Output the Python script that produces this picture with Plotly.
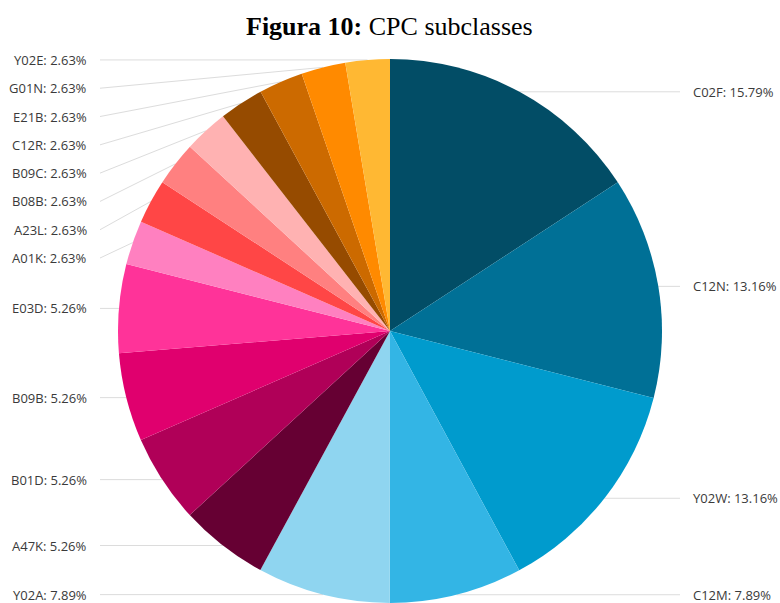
import math
import plotly.graph_objects as go

# CPC subclass shares (percent), clockwise from 12 o'clock
subclasses = ["C02F", "C12N", "Y02W", "C12M", "Y02A", "A47K", "B01D", "B09B",
              "E03D", "A01K", "A23L", "B08B", "B09C", "C12R", "E21B", "G01N", "Y02E"]
shares = [15.79, 13.16, 13.16, 7.89, 7.89, 5.26, 5.26, 5.26,
          5.26, 2.63, 2.63, 2.63, 2.63, 2.63, 2.63, 2.63, 2.63]
colors = ["#024d66", "#007096", "#009bcd", "#33b5e5", "#8fd5f0", "#660033", "#b00058", "#e0006e",
          "#ff3399", "#ff80c0", "#ff4646", "#ff8080", "#ffb2b2", "#964b00", "#cc6a00", "#ff8a00", "#ffb833"]

W, H = 780, 603
CX = 390            # pie centre (px)
TOP = 59            # top of the pie (px)
R = (H - TOP) / 2   # radius follows from the domain height
CY = TOP + R

LEFT_TEXT_X, LEFT_LINE_X = 89, 100
RIGHT_TEXT_X, RIGHT_LINE_X = 691, 680
MIN_GAP = 28.3

fig = go.Figure(go.Pie(
    labels=subclasses,
    values=shares,
    sort=False,
    direction="clockwise",
    rotation=0,
    marker=dict(colors=colors, line=dict(width=0)),
    textinfo="none",
    hoverinfo="label+percent",
    showlegend=False,
    domain=dict(x=[(CX - 300) / W, (CX + 300) / W], y=[0, 1 - TOP / H]),
))

# mid-angle of every slice (degrees clockwise from 12 o'clock)
total = sum(shares)
mids, acc = [], 0.0
for v in shares:
    mids.append((acc + v / 2) / total * 360)
    acc += v

items = []
for name, v, a in zip(subclasses, shares, mids):
    rad = math.radians(a)
    px = CX + R * math.sin(rad)
    py = CY - R * math.cos(rad)
    items.append(dict(text=f"{name}: {v:.2f}%", px=px, py=py, ly=py, right=a < 180))

# spread labels on each side so they never overlap
for side in (True, False):
    group = sorted([it for it in items if it["right"] == side], key=lambda d: d["py"])
    prev = None
    for it in group:
        if prev is not None and it["ly"] < prev + MIN_GAP:
            it["ly"] = prev + MIN_GAP
        prev = it["ly"]

def fx(px):
    return px / W

def fy(py):
    return 1 - py / H

shapes, annotations = [], []
for it in items:
    if it["right"]:
        x0, x1 = it["px"], RIGHT_LINE_X
        y0, y1 = it["py"], it["ly"]
        tx, anchor = RIGHT_TEXT_X, "left"
    else:
        x0, x1 = LEFT_LINE_X, it["px"]
        y0, y1 = it["ly"], it["py"]
        tx, anchor = LEFT_TEXT_X, "right"
    shapes.append(dict(type="line", xref="paper", yref="paper",
                       x0=fx(x0), y0=fy(y0), x1=fx(x1), y1=fy(y1),
                       line=dict(color="#dcdcdc", width=1), layer="below"))
    annotations.append(dict(x=fx(tx), y=fy(it["ly"]), xref="paper", yref="paper",
                            text=it["text"], showarrow=False, xanchor=anchor, yanchor="middle",
                            font=dict(family="Open Sans", size=13, color="#3a3a3a")))

annotations.append(dict(x=fx(389), y=fy(26), xref="paper", yref="paper",
                        text="<b>Figura 10:</b> CPC subclasses", showarrow=False,
                        xanchor="center", yanchor="middle",
                        font=dict(family="Liberation Serif", size=26, color="#000000")))

fig.update_layout(
    width=W, height=H,
    margin=dict(l=0, r=0, t=0, b=0),
    paper_bgcolor="white",
    plot_bgcolor="white",
    shapes=shapes,
    annotations=annotations,
)

fig.write_html("out.html")
